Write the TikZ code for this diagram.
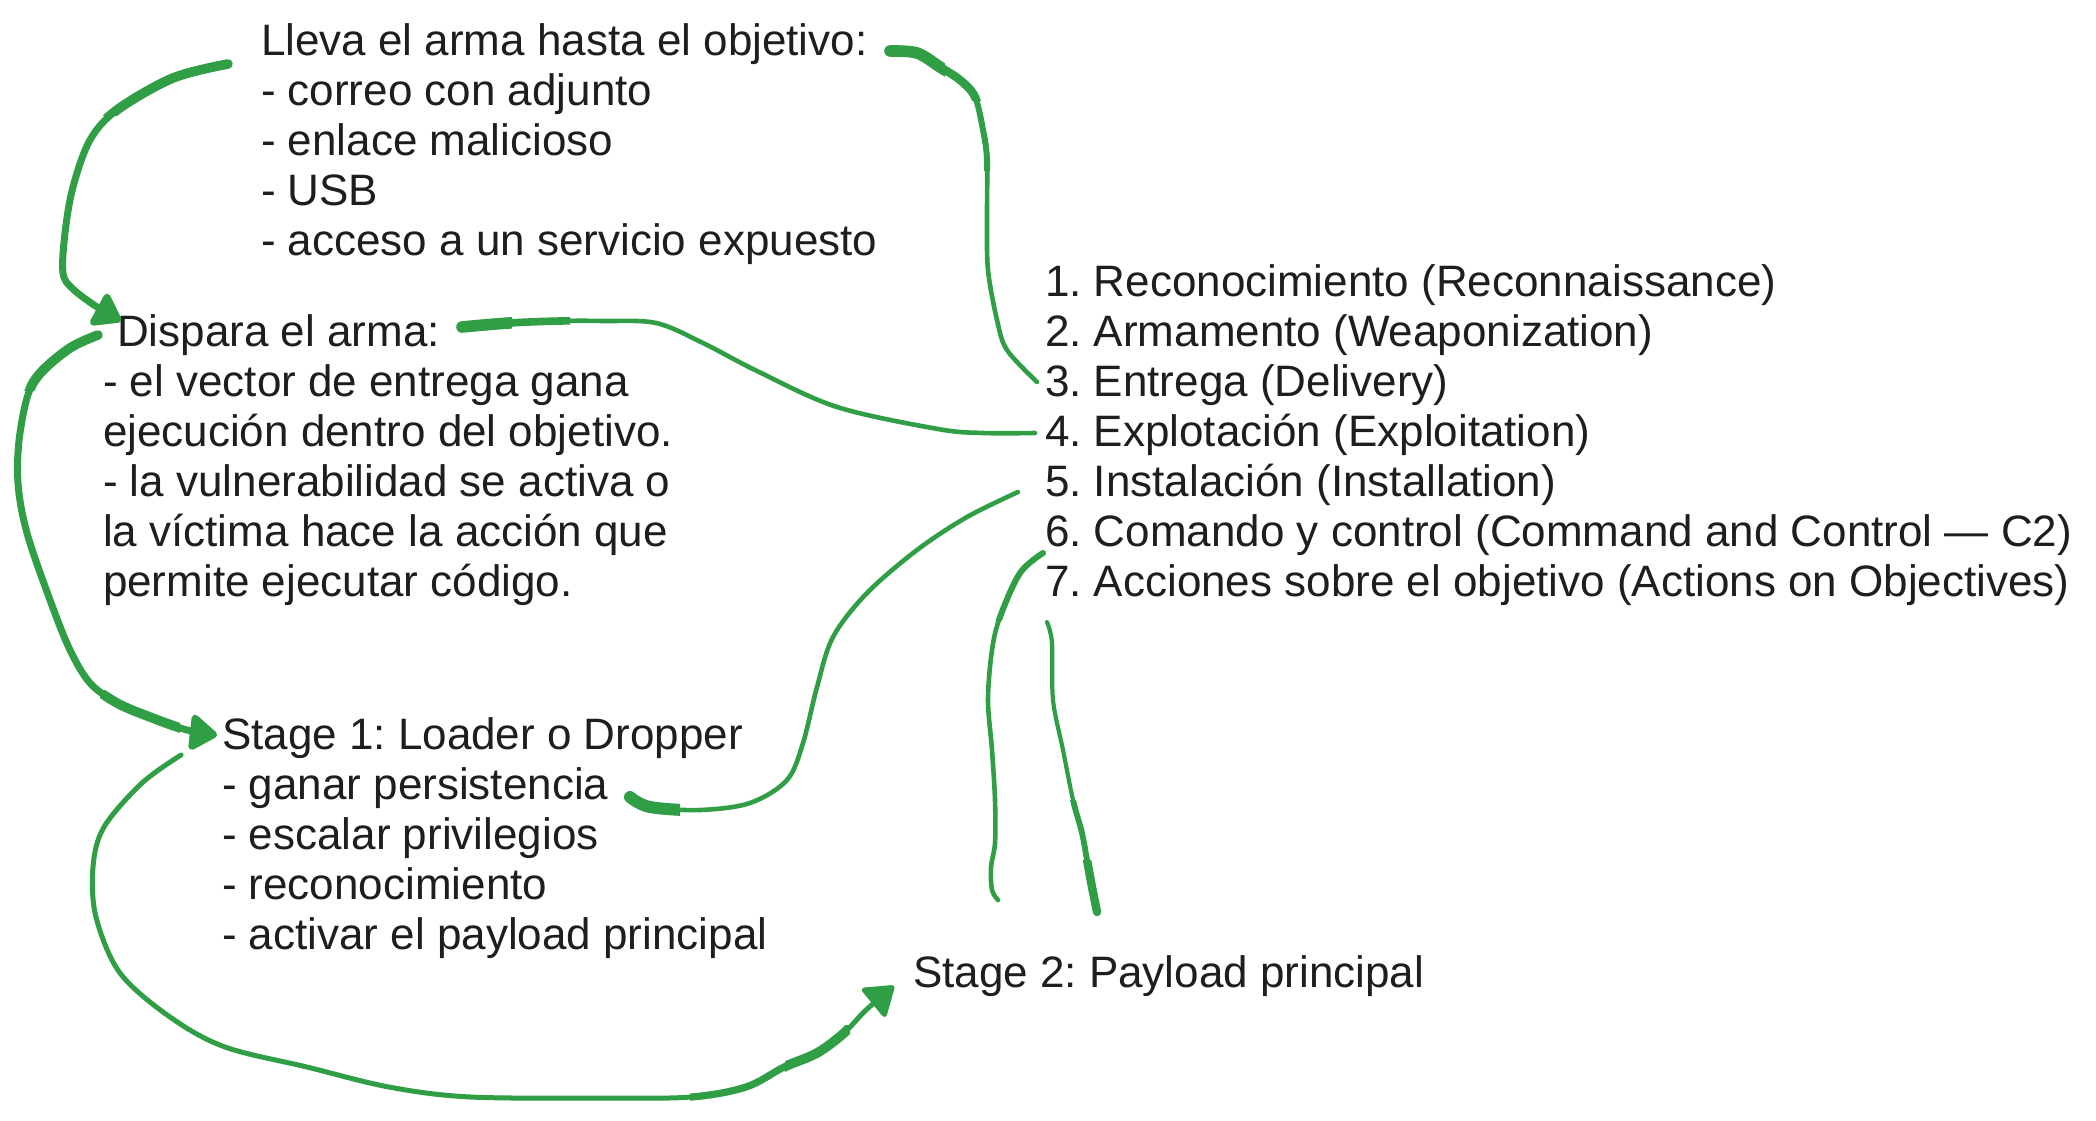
\documentclass[tikz,border=0pt]{standalone}
\usepackage{fontspec}
\setmainfont{Liberation Sans}
\usetikzlibrary{arrows.meta}
\definecolor{ink}{HTML}{1E1E1E}
\definecolor{grn}{HTML}{2F9E44}
\frenchspacing
\begin{document}
\begin{tikzpicture}[x=0.5pt,y=-0.5pt,
  txt/.style={anchor=base west, inner sep=0pt, outer sep=0pt, text=ink,
    font=\fontsize{22}{25}\selectfont},
  wire/.style={draw=grn, line width=2.3pt, line cap=round, line join=round},
  headtip/.style={-{Triangle[length=15pt,width=20pt,round]}},
  sm/.style={smooth, tension=0.55}]
\fill[white] (0,0) rectangle (2096,1120);
\useasboundingbox (0,0) rectangle (2096,1120);

% block A
\node[txt] (a1) at (261,55)  {Lleva el arma hasta el objetivo:};
\node[txt] (a2) at (261,105) {- correo con adjunto};
\node[txt] (a3) at (261,155) {- enlace malicioso};
\node[txt] (a4) at (261,205) {- USB};
\node[txt] (a5) at (261,255) {- acceso a un servicio expuesto};
% block B
\node[txt] (b1) at (117,346) {Dispara el arma:};
\node[txt] (b2) at (103,396) {- el vector de entrega gana};
\node[txt] (b3) at (103,446) {ejecución dentro del objetivo.};
\node[txt] (b4) at (103,496) {- la vulnerabilidad se activa o};
\node[txt] (b5) at (103,546) {la víctima hace la acción que};
\node[txt] (b6) at (103,596) {permite ejecutar código.};
% block C
\node[txt] (c1) at (1045,296) {1. Reconocimiento (Reconnaissance)};
\node[txt] (c2) at (1045,346) {2. Armamento (Weaponization)};
\node[txt] (c3) at (1045,396) {3. Entrega (Delivery)};
\node[txt] (c4) at (1045,446) {4. Explotación (Exploitation)};
\node[txt] (c5) at (1045,496) {5. Instalación (Installation)};
\node[txt] (c6) at (1045,546) {6. Comando y control (Command and Control — C2)};
\node[txt] (c7) at (1045,596) {7. Acciones sobre el objetivo (Actions on Objectives)};
% block D
\node[txt] (d1) at (222,749) {Stage 1: Loader o Dropper};
\node[txt] (d2) at (222,799) {- ganar persistencia};
\node[txt] (d3) at (222,849) {- escalar privilegios};
\node[txt] (d4) at (222,899) {- reconocimiento};
\node[txt] (d5) at (222,949) {- activar el payload principal};
% block E
\node[txt] (e1) at (913,987) {Stage 2: Payload principal};

% connector end points
\coordinate (s1) at (890,51);   \coordinate (t1) at (1037,382);
\coordinate (s2) at (462,327);  \coordinate (t2) at (1035,433);
\coordinate (s3) at (228,64);   \coordinate (t3) at (121,321);
\coordinate (s4) at (98,335);   \coordinate (t4) at (217,735);
\coordinate (s5) at (1018,492); \coordinate (t5) at (630,797);
\coordinate (s6) at (1043,553); \coordinate (t6) at (998,900);
\coordinate (s7) at (1047,622); \coordinate (t7) at (1097,912);
\coordinate (s8) at (181,755);  \coordinate (t8) at (894,986);

\def\pone{plot[sm] coordinates {(s1) (917,53) (940,67) (960,80) (975,97) (983,130) (987,160) (987,220) (988,270) (997,320) (1007,350) (t1)}}
\def\ptwo{plot[sm] coordinates {(s2) (509,323) (560,321) (603,321) (656,323) (703,343) (757,371) (837,407) (938,429) (983,433) (t2)}}
\def\pthree{plot[sm] coordinates {(s3) (173,78) (117,110) (90,140) (73,187) (65,233) (63,273) (73,289) (97,307) (t3)}}
\def\pfour{plot[sm] coordinates {(s4) (67,350) (33,383) (20,433) (18,483) (27,533) (50,600) (70,650) (90,683) (117,703) (150,717) (187,730) (t4)}}
\def\pfive{plot[sm] coordinates {(s5) (967,517) (917,550) (867,593) (833,637) (817,687) (803,743) (787,780) (750,803) (700,810) (650,807) (t5)}}
\def\psix{plot[sm] coordinates {(s6) (1020,573) (1000,617) (992,650) (988,700) (992,750) (995,800) (995,843) (991,867) (992,890) (t6)}}
\def\pseven{plot[sm] coordinates {(s7) (1052,643) (1053,700) (1063,750) (1073,800) (1082,833) (1087,860) (1092,887) (t7)}}
\def\peight{plot[sm] coordinates {(s8) (142,783) (104,827) (93,867) (96,917) (120,973) (170,1017) (225,1047) (307,1067) (389,1087) (471,1097) (609,1098) (691,1097) (746,1087) (784,1067) (817,1053) (844,1033) (866,1010) (t8)}}

% 1: a1 -> c3
\draw[wire] \pone;
\begin{scope}\clip (870,30) rectangle (945,80); \draw[wire, line width=5.8pt] \pone; \end{scope}
\begin{scope}\clip (945,30) rectangle (990,100); \draw[wire, line width=4.2pt] \pone; \end{scope}
\begin{scope}\clip (960,100) rectangle (1000,170); \draw[wire, line width=3pt] \pone; \end{scope}

% 2: b1 -> c4
\draw[wire] \ptwo;
\begin{scope}\clip (440,300) rectangle (512,345); \draw[wire, line width=5.8pt] \ptwo; \end{scope}
\begin{scope}\clip (512,300) rectangle (570,345); \draw[wire, line width=3.8pt] \ptwo; \end{scope}

% 3: a1 -> b1 (arrow)
\draw[wire, line width=3.5pt, headtip] \pthree;
\begin{scope}\clip (100,40) rectangle (250,115); \draw[wire, line width=4.8pt] \pthree; \end{scope}

% 4: b1 -> d1 (arrow)
\draw[wire, line width=3.5pt, headtip] \pfour;
\begin{scope}\clip (0,320) rectangle (110,390); \draw[wire, line width=4.8pt] \pfour; \end{scope}
\begin{scope}\clip (100,690) rectangle (180,750); \draw[wire, line width=4.8pt] \pfour; \end{scope}

% 5: c5 -> d2
\draw[wire] \pfive;
\begin{scope}\clip (610,780) rectangle (680,830); \draw[wire, line width=6pt] \pfive; \end{scope}

% 6: c6 -> down
\draw[wire] \psix;
\begin{scope}\clip (980,540) rectangle (1060,620); \draw[wire, line width=3pt] \psix; \end{scope}

% 7: c7 -> down
\draw[wire, line width=2.1pt] \pseven;
\begin{scope}\clip (1040,800) rectangle (1110,860); \draw[wire, line width=2.9pt] \pseven; \end{scope}
\begin{scope}\clip (1040,860) rectangle (1110,930); \draw[wire, line width=4.2pt] \pseven; \end{scope}

% 8: d1 -> e1 (arrow)
\draw[wire, line width=2.5pt, headtip] \peight;
\begin{scope}\clip (690,1040) rectangle (785,1115); \draw[wire, line width=3.6pt] \peight; \end{scope}
\begin{scope}\clip (785,1025) rectangle (850,1080); \draw[wire, line width=4.8pt] \peight; \end{scope}
\end{tikzpicture}
\end{document}
